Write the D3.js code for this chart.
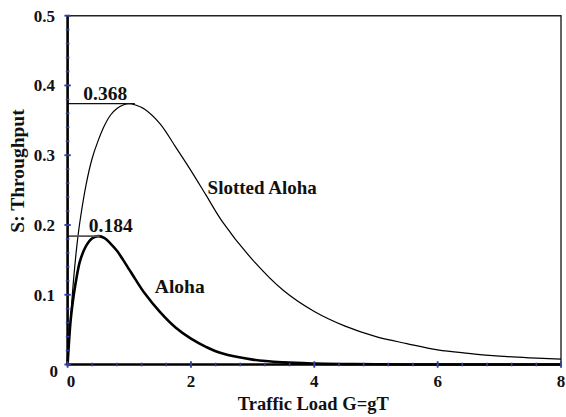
<!DOCTYPE html>
<html>
<head>
<meta charset="utf-8">
<script src="https://cdn.jsdelivr.net/npm/d3@7"></script>
<style>
  body { margin: 0; background: #fff; }
  text { font-family: "Liberation Serif", serif; font-weight: bold; fill: #111; }
</style>
</head>
<body>
<script>
// traffic load G (x values)
var loadG = [0, 0.05, 0.1, 0.15, 0.2, 0.3, 0.4, 0.5, 0.6, 0.7, 0.8, 0.9, 1.0, 1.1, 1.25,
             1.5, 1.75, 2.0, 2.25, 2.5, 3.0, 3.5, 4.0, 4.5, 5.0, 5.5, 6.0, 6.5, 7.0, 7.5, 8.0];

var slottedS = [0, 0.068, 0.125, 0.170, 0.205, 0.258, 0.296, 0.322, 0.343, 0.358, 0.367, 0.372, 0.374, 0.372, 0.366,
                0.345, 0.312, 0.278, 0.242, 0.206, 0.150, 0.106, 0.076, 0.055, 0.040, 0.030, 0.021, 0.016, 0.012, 0.0095, 0.0077];

var alohaS = [0, 0.064, 0.100, 0.127, 0.148, 0.170, 0.181, 0.184, 0.181, 0.173, 0.163, 0.150, 0.136, 0.122, 0.102,
              0.075, 0.053, 0.037, 0.025, 0.016, 0.007, 0.003, 0.0013, 0.0006, 0.0003, 0.0001, 0, 0, 0, 0, 0];

var xTicks = [0, 2, 4, 6, 8];
var yTicks = [0, 0.1, 0.2, 0.3, 0.4, 0.5];
var yTickLabels = ["0", "0.1", "0.2", "0.3", "0.4", "0.5"];
var peakLabels = ["0.368", "0.184"];
var seriesNames = ["Slotted Aloha", "Aloha"];

var svgWidth = 566, svgHeight = 417;
var margin = { top: 15.7, right: 5, bottom: 52.5, left: 67.6 };
var width = svgWidth - margin.left - margin.right;
var height = svgHeight - margin.top - margin.bottom;
var tickBlue = "#2f3f9e";

var svg = d3.select("body").append("svg")
    .attr("width", svgWidth)
    .attr("height", svgHeight);

var chartGroup = svg.append("g")
    .attr("transform", `translate(${margin.left}, ${margin.top})`);

var xScale = d3.scaleLinear().domain([0, 8]).range([0, width]);
var yScale = d3.scaleLinear().domain([0, 0.5]).range([height, 0]);

// top and right frame
chartGroup.append("path")
    .attr("d", `M0,0H${width}V${height}`)
    .attr("fill", "none")
    .attr("stroke", "#222")
    .attr("stroke-width", 1.4);

// curves
var line = d3.line()
    .x(d => xScale(d[0]))
    .y(d => yScale(Math.max(0, d[1])))
    .curve(d3.curveCatmullRom.alpha(0.5));

var slottedData = loadG.map((g, i) => [g, slottedS[i]]);
var alohaData = loadG.map((g, i) => [g, alohaS[i]]);

chartGroup.append("path")
    .datum(slottedData)
    .attr("d", line)
    .attr("fill", "none")
    .attr("stroke", "#000")
    .attr("stroke-width", 1.2);

chartGroup.append("path")
    .datum(alohaData)
    .attr("d", line)
    .attr("fill", "none")
    .attr("stroke", "#000")
    .attr("stroke-width", 2.6);

// peak markers
var slottedMax = d3.max(slottedS);
var alohaMax = d3.max(alohaS);

chartGroup.append("line")
    .attr("x1", 0).attr("x2", xScale(1.09))
    .attr("y1", yScale(slottedMax)).attr("y2", yScale(slottedMax))
    .attr("stroke", "#111").attr("stroke-width", 1.2);

chartGroup.append("line")
    .attr("x1", 0).attr("x2", xScale(0.52))
    .attr("y1", yScale(alohaMax)).attr("y2", yScale(alohaMax))
    .attr("stroke", "#555").attr("stroke-width", 1.6);

chartGroup.append("text")
    .attr("x", xScale(0.255)).attr("y", yScale(slottedMax) - 3.5)
    .attr("font-size", 19.5)
    .text(peakLabels[0]);

chartGroup.append("text")
    .attr("x", xScale(0.345)).attr("y", yScale(alohaMax) - 4)
    .attr("font-size", 19.5)
    .text(peakLabels[1]);

chartGroup.append("text")
    .attr("x", xScale(2.27)).attr("y", yScale(0.245))
    .attr("font-size", 19)
    .text(seriesNames[0]);

chartGroup.append("text")
    .attr("x", xScale(1.415)).attr("y", yScale(0.103))
    .attr("font-size", 19.5)
    .text(seriesNames[1]);

// axes lines
chartGroup.append("line")
    .attr("x1", 0).attr("x2", 0).attr("y1", 0).attr("y2", height)
    .attr("stroke", "#000").attr("stroke-width", 2.6);
chartGroup.append("line")
    .attr("x1", 0).attr("x2", width).attr("y1", height).attr("y2", height)
    .attr("stroke", "#000").attr("stroke-width", 2.6);

// ticks (blue, crossing the axis)
var xMinor = d3.range(0, 8.001, 0.4);
var yMinor = d3.range(0, 0.5001, 0.02);

chartGroup.selectAll(".xminor").data(xMinor).enter().append("line")
    .attr("x1", d => xScale(d)).attr("x2", d => xScale(d))
    .attr("y1", height - 1.8).attr("y2", height + 1.8)
    .attr("stroke", tickBlue).attr("stroke-width", 1.6);
chartGroup.selectAll(".xmajor").data(xTicks).enter().append("line")
    .attr("x1", d => xScale(d)).attr("x2", d => xScale(d))
    .attr("y1", height - 3.2).attr("y2", height + 3.2)
    .attr("stroke", tickBlue).attr("stroke-width", 1.8);
chartGroup.selectAll(".yminor").data(yMinor).enter().append("line")
    .attr("x1", -1.8).attr("x2", 1.8)
    .attr("y1", d => yScale(d)).attr("y2", d => yScale(d))
    .attr("stroke", tickBlue).attr("stroke-width", 1.6);
chartGroup.selectAll(".ymajor").data(yTicks).enter().append("line")
    .attr("x1", -3.2).attr("x2", 3.2)
    .attr("y1", d => yScale(d)).attr("y2", d => yScale(d))
    .attr("stroke", tickBlue).attr("stroke-width", 1.8);

// tick labels
chartGroup.selectAll(".xlabel").data(xTicks).enter().append("text")
    .attr("x", d => xScale(d) + (d === 0 ? 3.5 : 0))
    .attr("y", height + 22.5)
    .attr("text-anchor", "middle")
    .attr("font-size", 17)
    .text(d => d);

chartGroup.selectAll(".ylabel").data(yTicks).enter().append("text")
    .attr("x", (d, i) => i === 0 ? -9.5 : -12.5)
    .attr("y", (d, i) => yScale(d) + (i === 0 ? 6.5 : 0))
    .attr("dy", "0.35em")
    .attr("text-anchor", "end")
    .attr("font-size", 17)
    .text((d, i) => yTickLabels[i]);

// axis titles
svg.append("text")
    .attr("x", margin.left + width / 2 - 1)
    .attr("y", 410)
    .attr("text-anchor", "middle")
    .attr("font-size", 18.5)
    .text("Traffic Load G=gT");

svg.append("text")
    .attr("transform", "translate(23.5, 171) rotate(-90)")
    .attr("text-anchor", "middle")
    .attr("font-size", 19.5)
    .text("S: Throughput");
</script>
</body>
</html>
